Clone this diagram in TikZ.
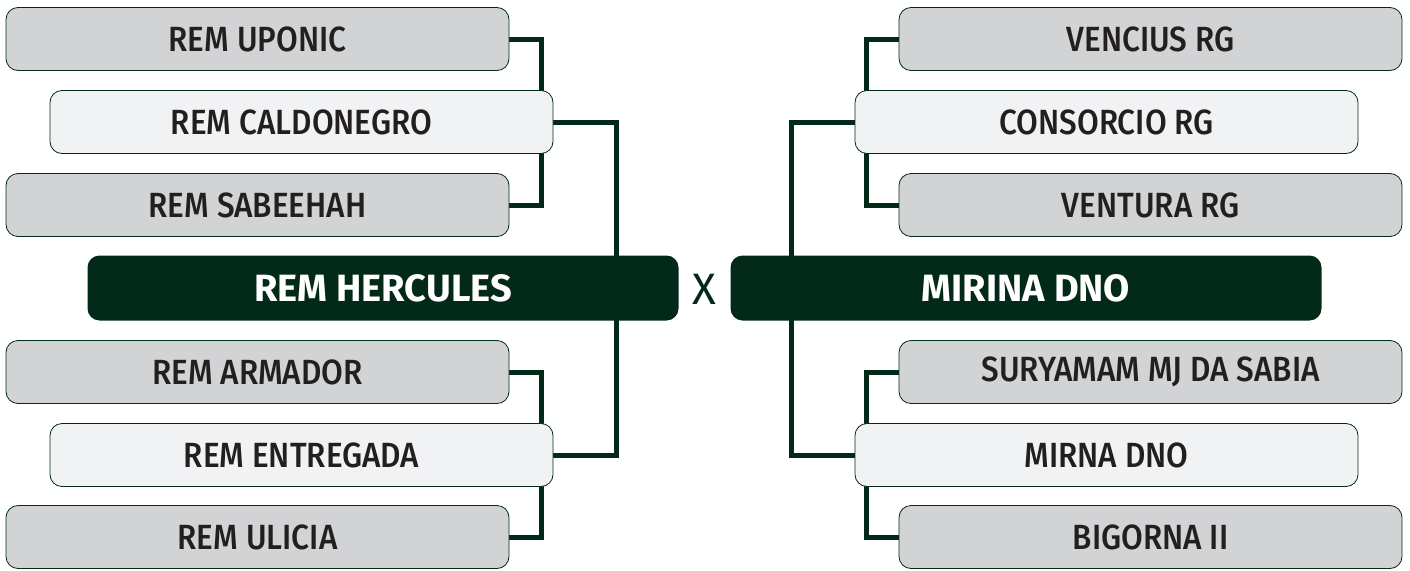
\documentclass[tikz,border=0pt]{standalone}
\usepackage{fontspec}
\setmainfont{Fira Sans}
\newfontfamily\teamfont{Fira Sans Medium}[FakeStretch=0.9]
\usetikzlibrary{backgrounds}
\definecolor{cdark}{RGB}{3,42,25}
\definecolor{cgray}{RGB}{209,211,212}
\definecolor{clight}{RGB}{241,242,243}
\definecolor{ctext}{RGB}{35,31,32}
\tikzset{team/.style={draw=cdark,line width=0.8pt,rounded corners=12pt,
           minimum width=503pt,minimum height=63pt,inner sep=0pt,text=ctext,
           font=\teamfont\fontsize{35}{40}\selectfont},
         seed/.style={team,fill=cgray},
         host/.style={team,fill=clight}}
\tikzset{final/.style={fill=cdark,rounded corners=12pt,minimum width=591pt,
           minimum height=65pt,inner sep=0pt,text=white,
           font=\bfseries\fontsize{38}{44}\selectfont},
         link/.style={cdark,line width=5pt}}

\begin{document}
\begin{tikzpicture}[x=1pt,y=-1pt]
    \useasboundingbox (0,0) rectangle (1410,570);
    % left half
    \node[seed] (upo) at (257.5,39)  {REM UPONIC};
    \node[host] (cal) at (301.5,122) {REM CALDONEGRO};
    \node[seed] (sab) at (257.5,205) {REM SABEEHAH};
    \node[final] (her) at (383,288) {REM HERCULES};
    \node[seed] (arm) at (257.5,372) {REM ARMADOR};
    \node[host] (ent) at (301.5,455) {REM ENTREGADA};
    \node[seed] (uli) at (257.5,537) {REM ULICIA};
    % right half
    \node[seed] (ven) at (1150.5,39)  {VENCIUS RG};
    \node[host] (con) at (1106.5,122) {CONSORCIO RG};
    \node[seed] (vtr) at (1150.5,205) {VENTURA RG};
    \node[final] (mir) at (1026,288) {MIRINA DNO};
    \node[seed] (sur) at (1150.5,372) {SURYAMAM MJ DA SABIA};
    \node[host] (mrn) at (1106.5,455) {MIRNA DNO};
    \node[seed] (big) at (1150.5,537) {BIGORNA II};
    \node[cdark,font=\fontsize{44}{50}\selectfont] (vs) at (704,289) {X};
    \begin{scope}[on background layer]
      \draw[link] (upo.east) -- ++(32,0) |- (sab.east);
      \draw[link] (arm.east) -- ++(32,0) |- (uli.east);
      \draw[link] (cal.east) -- ++(63,0) |- (ent.east);
      \draw[link] (ven.west) -- ++(-32,0) |- (vtr.west);
      \draw[link] (sur.west) -- ++(-32,0) |- (big.west);
      \draw[link] (con.west) -- ++(-63,0) |- (mrn.west);
    \end{scope}
  \end{tikzpicture}
\end{document}
